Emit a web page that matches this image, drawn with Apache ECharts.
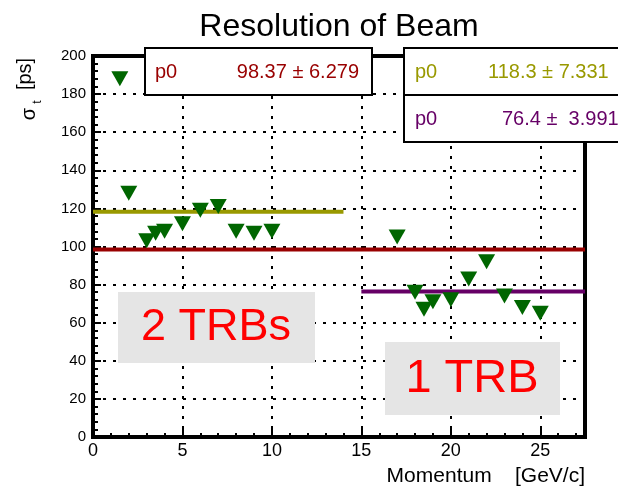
<!DOCTYPE html>
<html>
<head>
<meta charset="utf-8">
<script src="https://cdn.jsdelivr.net/npm/echarts@6/dist/echarts.min.js"></script>
<style>
  html, body { margin: 0; padding: 0; background: #fff; }
  #chart { width: 618px; height: 486px; }
</style>
</head>
<body>
<div id="chart"></div>
<script>
// Beam timing resolution versus momentum
const momentum = [1.5, 2, 3, 3.5, 4, 5, 6, 7, 8, 9, 10, 17, 18, 18.5, 19, 20, 21, 22, 23, 24, 25];
const sigmaT   = [188, 128, 103, 107, 108, 112, 119, 121, 108, 107, 108, 105, 76, 67, 71, 72, 83, 92, 74, 68, 65];

// Constant fits (p0) and their fit ranges
const fitP0    = [98.37, 118.3, 76.4];
const fitErr   = ['6.279', '7.331', '3.991'];
const fitFrom  = [0, 0, 15];
const fitTo    = [27.5, 14, 27.5];
const fitColor = ['#990000', '#999900', '#660066'];

const xTicks = [0, 5, 10, 15, 20, 25];
const yTicks = [0, 20, 40, 60, 80, 100, 120, 140, 160, 180, 200];

const FONT = 'Liberation Sans, Arial, Helvetica, sans-serif';
const dotted = { color: '#000', width: 2, type: [3, 7] };

const chart = echarts.init(document.getElementById('chart'), null, { renderer: 'canvas' });

const fitSeries = fitP0.map((p0, i) => ({
  type: 'line',
  xAxisIndex: 0,
  data: [[fitFrom[i], p0], [fitTo[i], p0]],
  showSymbol: false,
  symbol: 'none',
  lineStyle: { color: fitColor[i], width: 4 },
  z: 3,
  silent: true
}));

const textEl = (x, y, text, size, color, align, extra) => Object.assign({
  type: 'text', x: x, y: y, z: 100,
  style: {
    text: text, font: size + 'px ' + FONT, fill: color,
    textAlign: align, align: align,
    textVerticalAlign: 'middle', verticalAlign: 'middle'
  }
}, extra || {});

const option = {
  backgroundColor: '#fff',
  animation: false,
  grid: {
    left: 93, right: 33, top: 56, bottom: 49,
    show: true, borderColor: '#000', borderWidth: 4, backgroundColor: 'transparent'
  },
  xAxis: [{
    type: 'value', min: 0, max: 27.5, interval: 5,
    axisLine: { show: false },
    axisTick: { show: true, inside: true, length: 8, lineStyle: { color: '#000', width: 2 } },
    axisLabel: {
      show: true, color: '#000', fontSize: 18, fontFamily: FONT, margin: 5,
      showMaxLabel: false,
      formatter: v => (xTicks.indexOf(v) >= 0 ? String(v) : '')
    },
    splitLine: { show: true, lineStyle: dotted }
  }, {
    type: 'value', min: 0, max: 27.5, interval: 1, position: 'bottom',
    axisLine: { show: false },
    axisTick: { show: true, inside: true, length: 4, lineStyle: { color: '#000', width: 2 } },
    axisLabel: { show: false },
    splitLine: { show: false }
  }],
  yAxis: [{
    type: 'value', min: 0, max: 200, interval: 20,
    axisLine: { show: false },
    axisTick: { show: true, inside: true, length: 8, lineStyle: { color: '#000', width: 2 } },
    minorTick: { show: true, splitNumber: 5, length: 5, lineStyle: { color: '#000', width: 2 } },
    axisLabel: {
      show: true, color: '#000', fontSize: 15, fontFamily: FONT, margin: 7,
      formatter: v => (yTicks.indexOf(v) >= 0 ? String(v) : '')
    },
    splitLine: { show: true, lineStyle: dotted }
  }],
  series: fitSeries.concat([{
    type: 'scatter',
    xAxisIndex: 0,
    data: momentum.map((m, i) => [m, sigmaT[i]]),
    symbol: 'triangle',
    symbolRotate: 180,
    symbolSize: [17, 15],
    itemStyle: { color: '#006600', opacity: 1 },
    z: 5,
    silent: true
  }]),
  graphic: [
    // title, centred over the frame
    textEl(339, 27, 'Resolution of Beam', 32, '#000', 'center'),
    // axis titles, right-adjusted at the axis ends
    textEl(585, 476, 'Momentum    [GeV/c]', 21, '#000', 'right'),
    textEl(25, 74, '[ps]', 20, '#000', 'center', { rotation: Math.PI / 2 }),
    textEl(29, 114, 'σ', 20, '#000', 'center', { rotation: Math.PI / 2 }),
    textEl(38, 102, 't', 12, '#000', 'center', { rotation: Math.PI / 2 }),
    // fit result boxes
    { type: 'rect', z: 99, shape: { x: 145, y: 48, width: 227, height: 47 },
      style: { fill: '#fff', stroke: '#000', lineWidth: 2 } },
    textEl(155, 72, 'p0', 20, fitColor[0], 'left'),
    textEl(359, 72, fitP0[0].toFixed(2) + ' ± ' + fitErr[0], 20, fitColor[0], 'right'),
    { type: 'rect', z: 99, shape: { x: 404, y: 48, width: 240, height: 47 },
      style: { fill: '#fff', stroke: '#000', lineWidth: 2 } },
    { type: 'rect', z: 99, shape: { x: 404, y: 95, width: 240, height: 47 },
      style: { fill: '#fff', stroke: '#000', lineWidth: 2 } },
    textEl(415, 72, 'p0', 20, fitColor[1], 'left'),
    textEl(488, 72, fitP0[1].toFixed(1) + ' ± ' + fitErr[1], 20, fitColor[1], 'left'),
    textEl(415, 119, 'p0', 20, fitColor[2], 'left'),
    textEl(502, 119, fitP0[2].toFixed(1) + ' ±  ' + fitErr[2], 20, fitColor[2], 'left'),
    // region labels
    { type: 'rect', z: 90, shape: { x: 118, y: 292, width: 197, height: 71 },
      style: { fill: '#e5e5e5' } },
    textEl(216, 328, '2 TRBs', 45, '#ff0000', 'center'),
    { type: 'rect', z: 90, shape: { x: 385, y: 342, width: 175, height: 73 },
      style: { fill: '#e5e5e5' } },
    textEl(472, 379, '1 TRB', 47, '#ff0000', 'center')
  ]
};

chart.setOption(option);
</script>
</body>
</html>
